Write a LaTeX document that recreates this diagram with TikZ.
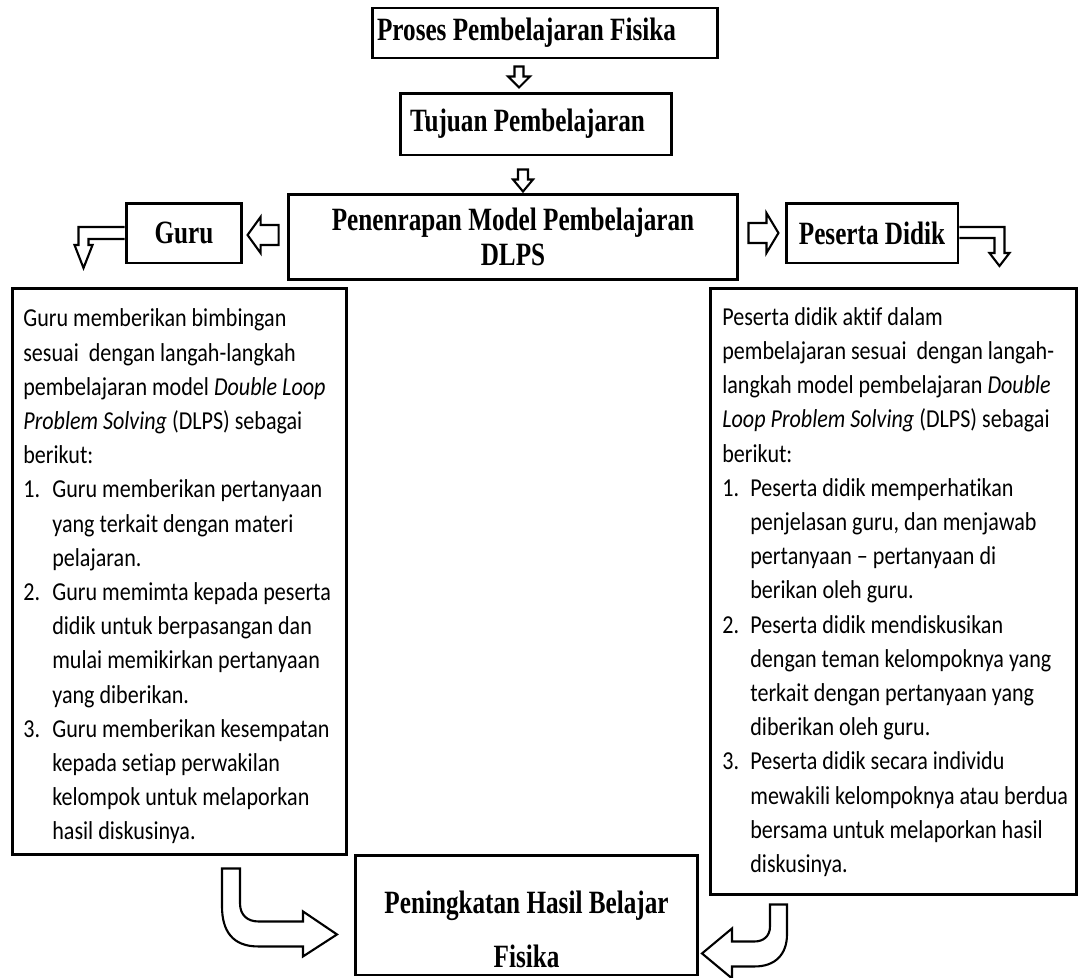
\documentclass[tikz,border=0pt]{standalone}
\usepackage{fontspec}
\usetikzlibrary{calc}
\newfontfamily\headfont[FakeStretch=0.775]{Liberation Serif}
\newfontfamily\bodyfont[FakeStretch=0.855, Ligatures=NoCommon]{Carlito}
\newcommand\plainL[1]{\mbox{#1}}
\newcommand\numLL[2]{\mbox{\makebox[0.58cm][l]{#1}#2}}
\newcommand\contLL[1]{\mbox{\hspace*{0.58cm}#1}}
\newcommand\numLR[2]{\mbox{\makebox[0.56cm][l]{#1}#2}}
\newcommand\contLR[1]{\mbox{\hspace*{0.56cm}#1}}
\tikzset{
  hfont/.style={font=\headfont\bfseries\fontsize{18.5}{19.8}\selectfont},
  hbox/.style={draw, line width=1.7pt, inner ysep=0pt, hfont},
  plainbox/.style={draw, line width=1.7pt, inner sep=0pt},
  btext/.style={inner sep=0pt, align=flush left, anchor=west,
    font=\bodyfont\fontsize{14.7}{19.47}\selectfont},
  barrow/.style={draw, line width=1.2pt, fill=white, line join=miter}
}
\begin{document}
\begin{tikzpicture}[x=0.02cm,y=-0.02cm]
\fill[white] (0,0) rectangle (1081,977);
\useasboundingbox (0,0) rectangle (1081,977);

% heading boxes
\node[hbox, minimum height=1.0cm, inner xsep=0.1cm, text width=6.72cm, align=flush left] (proses) at (545,33) {Proses Pembelajaran Fisika};
\node[hbox, minimum height=1.24cm, inner xsep=0.2cm, text width=5.04cm, align=flush left] (tujuan) at (536,124) {Tujuan Pembelajaran};
\node[hbox, minimum width=9.0cm, minimum height=1.7cm, align=center] (pen) at (513,237) {Penenrapan Model Pembelajaran\\DLPS};
\node[hbox, minimum width=2.32cm, minimum height=1.2cm] (guru) at (184,233) {Guru};
\node[hbox, minimum width=3.44cm, minimum height=1.2cm] (peserta) at (872,233) {Peserta Didik};

\node[plainbox, minimum width=6.86cm, minimum height=2.4cm] (pening) at (526.5,915) {};
\node[hfont, inner sep=0pt, align=center, font=\headfont\bfseries\fontsize{18.5}{30.6}\selectfont] (peningtext) at (526.5,929) {Peningkatan Hasil Belajar\\Fisika};

% text boxes
\node[plainbox, minimum width=6.7cm, minimum height=11.34cm] (leftbox) at (179.5,571.5) {};
\node[btext] (lefttext) at (23,576.5) {%
\plainL{Guru memberikan bimbingan}\\
\plainL{sesuai~ dengan langah-langkah}\\
\plainL{pembelajaran model \textit{Double Loop}}\\
\plainL{\textit{Problem Solving} (DLPS) sebagai}\\
\plainL{berikut:}\\
\numLL{1.}{Guru memberikan pertanyaan}\\
\contLL{yang terkait dengan materi}\\
\contLL{pelajaran.}\\
\numLL{2.}{Guru memimta kepada peserta}\\
\contLL{didik untuk berpasangan dan}\\
\contLL{mulai memikirkan pertanyaan}\\
\contLL{yang diberikan.}\\
\numLL{3.}{Guru memberikan kesempatan}\\
\contLL{kepada setiap perwakilan}\\
\contLL{kelompok untuk melaporkan}\\
\contLL{hasil diskusinya.}};

\node[plainbox, minimum width=7.34cm, minimum height=12.14cm] (rightbox) at (893.5,591.5) {};
\node[btext] (righttext) at (722,592) {%
\plainL{Peserta didik aktif dalam}\\
\plainL{pembelajaran sesuai~ dengan langah-}\\
\plainL{langkah model pembelajaran \textit{Double}}\\
\plainL{\textit{Loop Problem Solving} (DLPS) sebagai}\\
\plainL{berikut:}\\
\numLR{1.}{Peserta didik memperhatikan}\\
\contLR{penjelasan guru, dan menjawab}\\
\contLR{pertanyaan – pertanyaan di}\\
\contLR{berikan oleh guru.}\\
\numLR{2.}{Peserta didik mendiskusikan}\\
\contLR{dengan teman kelompoknya yang}\\
\contLR{terkait dengan pertanyaan yang}\\
\contLR{diberikan oleh guru.}\\
\numLR{3.}{Peserta didik secara individu}\\
\contLR{mewakili kelompoknya atau berdua}\\
\contLR{bersama untuk melaporkan hasil}\\
\contLR{diskusinya.}};

% block arrows
\coordinate (a1) at ($(proses.south)+(-26,7)$);
\draw[barrow] (a1) ++(-4.5,0) -- ++(0,10) -- ++(-6.5,0) -- ++(11,11) -- ++(11,-11) -- ++(-6.5,0) -- ++(0,-10) -- cycle;

\coordinate (a2) at ($(tujuan.south)+(-13,13)$);
\draw[barrow] (a2) ++(-5,0) -- ++(0,10) -- ++(-5,0) -- ++(10,12) -- ++(10,-12) -- ++(-5,0) -- ++(0,-10) -- cycle;

\coordinate (a3) at ($(pen.west)+(-8,-2)$);
\draw[barrow] (a3) ++(0,-10) -- ++(-18,0) -- ++(0,-8) -- ++(-13,18) -- ++(13,18) -- ++(0,-8) -- ++(18,0) -- cycle;

\coordinate (a4) at ($(pen.east)+(9,-4)$);
\draw[barrow] (a4) ++(0,-10) -- ++(18,0) -- ++(0,-10) -- ++(12,20) -- ++(-12,20) -- ++(0,-10) -- ++(-18,0) -- cycle;

\coordinate (b5) at ($(guru.west)+(0,-6)$);
\draw[barrow] (b5) -- ++(-46,0) -- ++(0,18) -- ++(-4,0) -- ++(9,23) -- ++(9,-23) -- ++(-4,0) -- ++(0,-6) -- ++(36,0);

\coordinate (b6) at ($(peserta.east)+(0,-6)$);
\draw[barrow] (b6) -- ++(45,0) -- ++(0,26) -- ++(5,0) -- ++(-10,13) -- ++(-10,-13) -- ++(5,0) -- ++(0,-15) -- ++(-35,0);

\coordinate (c7) at ($(leftbox.south)+(42.5,12)$);
\draw[barrow] (c7) -- ++(18,0) -- ++(0,35) .. controls +(0,12) and +(-10,0) .. ++(18,18)
  -- ++(45,0) -- ++(0,-10) -- ++(34,23) -- ++(-34,22) -- ++(0,-10) -- ++(-45,0)
  .. controls +(-25,0) and +(0,25) .. ++(-36,-40) -- cycle;

\coordinate (c8) at ($(rightbox.south)+(-106.5,8)$);
\draw[barrow] (c8) -- ++(-17,0) -- ++(0,22) .. controls +(0,10) and +(8,0) .. ++(-15,15)
  -- ++(-23,0) -- ++(0,-13) -- ++(-30,25) -- ++(30,25) -- ++(0,-12) -- ++(23,0)
  .. controls +(20,0) and +(0,20) .. ++(32,-32) -- cycle;
\end{tikzpicture}
\end{document}
